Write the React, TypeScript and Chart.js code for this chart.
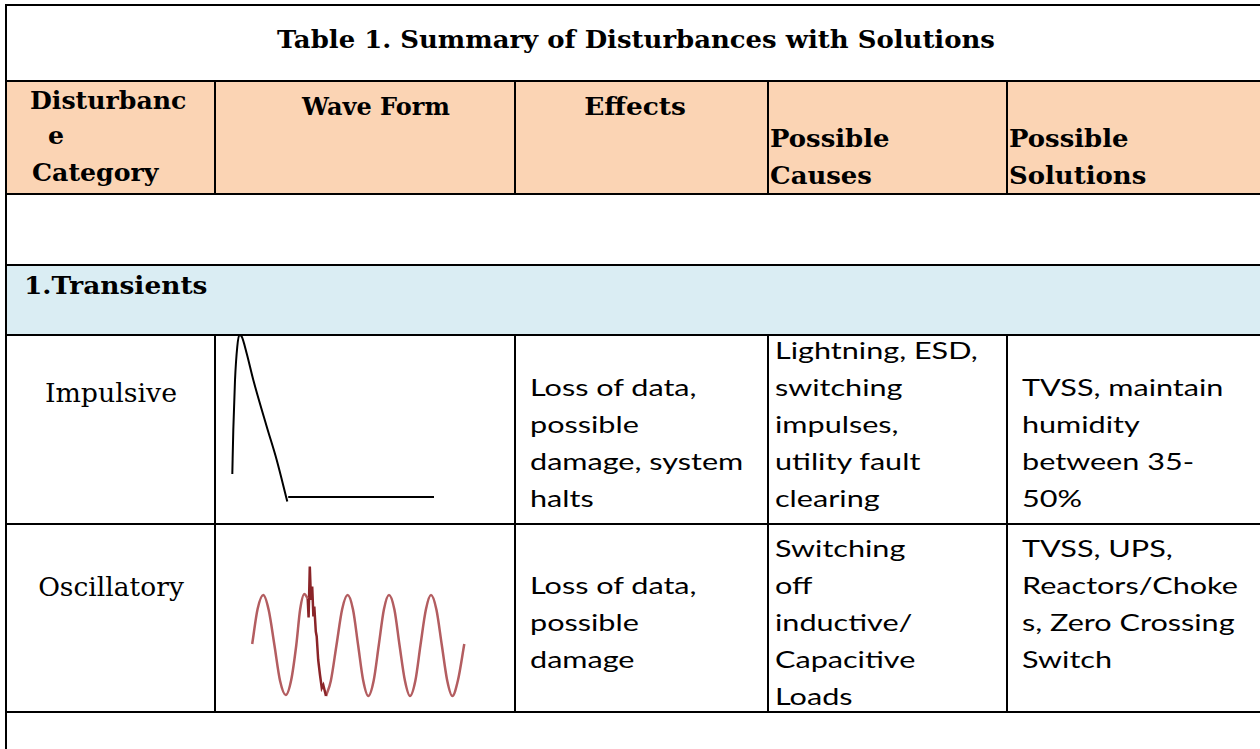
import React, { useEffect, useRef } from "react";
import { Chart, registerables } from "chart.js";

Chart.register(...registerables);

// ---------- text content ----------
const TITLE = "Table 1. Summary of Disturbances with Solutions";
const HEAD_CATEGORY = ["Disturbanc", "e", "Category"];
const HEAD_WAVE = "Wave Form";
const HEAD_EFFECTS = "Effects";
const HEAD_CAUSES = ["Possible", "Causes"];
const HEAD_SOLUTIONS = ["Possible", "Solutions"];
const SECTION = "1.Transients";
const ROW_LABELS = ["Impulsive", "Oscillatory"];
const EFFECTS_IMP = ["Loss of data,", "possible", "damage, system", "halts"];
const CAUSES_IMP = ["Lightning, ESD,", "switching", "impulses,", "utility fault", "clearing"];
const SOLUTIONS_IMP = ["TVSS, maintain", "humidity", "between 35-", "50%"];
const EFFECTS_OSC = ["Loss of data,", "possible", "damage"];
const CAUSES_OSC = ["Switching", "off", "inductive/", "Capacitive", "Loads"];
const SOLUTIONS_OSC = ["TVSS, UPS,", "Reactors/Choke", "s, Zero Crossing", "Switch"];

// ---------- waveform data (time units, voltage units) ----------
const IMPULSE_T = [5.77, 6.1, 6.67, 7.43, 8.1, 8.9, 10.57, 12.77, 17.23, 20.57, 24.1];
const IMPULSE_V = [0.46, 1.34, 2.34, 3.01, 3.24, 3.21, 2.87, 2.34, 1.41, 0.74, -0.09];
const BASELINE_T = [24.4, 73.0];
const BASELINE_V = [0.0, 0.0];

const OSC_A_T = [12.4, 14.2, 16.1, 17.9, 19.8, 21.7, 23.6, 25.4, 27.1, 28.4, 29.8, 30.9];
const OSC_A_V = [0.02, 0.72, 1.0, 0.7, 0.0, -0.72, -1.0, -0.7, 0.0, 0.72, 1.02, 0.93];
const OSC_SPIKE_T = [30.9, 31.2, 31.6, 32.0, 32.4, 32.8, 33.1, 33.6, 33.9, 34.4, 35.0, 35.6, 36.1, 37.0];
const OSC_SPIKE_V = [0.93, 0.55, 1.57, 0.9, 1.17, 0.57, 0.77, 0.27, 0.17, -0.3, -0.6, -0.86, -0.8, -1.02];
const OSC_B_T = [37.0, 38.6, 40.5, 42.4, 44.2, 46.0, 47.7, 49.4, 51.1, 52.9, 54.6, 56.3, 58.0, 59.8, 61.5, 63.3, 65.0, 66.8, 68.5, 70.3, 72.0, 73.8, 75.6, 77.4, 79.1, 81.0, 83.1];
const OSC_B_V = [-1.02, -0.72, 0.0, 0.72, 1.0, 0.71, 0.0, -0.71, -1.02, -0.71, 0.0, 0.71, 1.0, 0.71, 0.0, -0.71, -1.02, -0.71, 0.0, 0.71, 1.0, 0.71, 0.0, -0.71, -1.02, -0.7, 0.02];

const pts = (t: number[], v: number[]) => t.map((x, i) => ({ x, y: v[i] }));

// ---------- layout ----------
const W = 1260;
const H = 749;
const LEFT = 6;
const ROW_Y = [5, 81, 194, 265, 335, 524, 712];
const COL_X = [215, 515, 768, 1007];

const SERIF = "'DejaVu Serif', serif";
const SANS = "Lato, 'Open Sans', sans-serif";
const BODY_SIZE = 23;
const BODY_SX = 1.33;
const LINE_GAP = 37;

type WaveProps = {
  left: number;
  top: number;
  width: number;
  height: number;
  yMin: number;
  yMax: number;
  datasets: any[];
};

function WaveChart({ left, top, width, height, yMin, yMax, datasets }: WaveProps) {
  const ref = useRef<HTMLCanvasElement | null>(null);
  useEffect(() => {
    if (!ref.current) return;
    const chart = new Chart(ref.current, {
      type: "line",
      data: { datasets },
      options: {
        animation: false,
        responsive: false,
        maintainAspectRatio: false,
        events: [],
        layout: { padding: 0 },
        plugins: { legend: { display: false }, tooltip: { enabled: false } },
        scales: {
          x: { type: "linear", display: false, min: 0, max: 100 },
          y: { type: "linear", display: false, min: yMin, max: yMax },
        },
        elements: { point: { radius: 0 } },
      },
    } as any);
    return () => chart.destroy();
  }, []);
  return (
    <canvas
      ref={ref}
      width={width}
      height={height}
      style={{ position: "absolute", left, top, width, height }}
    />
  );
}

function T({
  x,
  y,
  text,
  align = "left",
  font,
  size,
  weight = 400,
  sx = 1,
}: {
  x: number;
  y: number;
  text: string;
  align?: "left" | "center";
  font: string;
  size: number;
  weight?: number;
  sx?: number;
}) {
  const center = align === "center";
  return (
    <div
      style={{
        position: "absolute",
        left: x,
        top: y,
        whiteSpace: "pre",
        fontFamily: font,
        fontSize: size,
        fontWeight: weight,
        lineHeight: 1,
        color: "#000",
        transform: center
          ? `translate(-50%, -50%) scaleX(${sx})`
          : `translateY(-50%) scaleX(${sx})`,
        transformOrigin: center ? "center center" : "left center",
      }}
    >
      {text}
    </div>
  );
}

function HLine({ y, x0 = LEFT, x1 = W }: { y: number; x0?: number; x1?: number }) {
  return (
    <div
      style={{
        position: "absolute",
        left: x0 - 1,
        top: y - 1,
        width: x1 - x0 + 1,
        height: 2,
        background: "#000",
        zIndex: 2,
      }}
    />
  );
}

function VLine({ x, y0, y1 }: { x: number; y0: number; y1: number }) {
  return (
    <div
      style={{
        position: "absolute",
        left: x - 1,
        top: y0 - 1,
        width: 2,
        height: y1 - y0 + 2,
        background: "#000",
        zIndex: 2,
      }}
    />
  );
}

function Lines({ x, ys, items }: { x: number; ys: number; items: string[] }) {
  return (
    <>
      {items.map((s, i) => (
        <T key={i} x={x} y={ys + i * LINE_GAP} text={s} font={SANS} size={BODY_SIZE} sx={BODY_SX} />
      ))}
    </>
  );
}

export default function App() {
  const lineBase = { pointRadius: 0, fill: false, clip: false };
  const impDatasets = [
    { ...lineBase, data: pts(IMPULSE_T, IMPULSE_V), borderColor: "#000", borderWidth: 2, cubicInterpolationMode: "monotone" },
    { ...lineBase, data: pts(BASELINE_T, BASELINE_V), borderColor: "#000", borderWidth: 2 },
  ];
  const oscDatasets = [
    { ...lineBase, data: pts(OSC_A_T, OSC_A_V), borderColor: "#b35d60", borderWidth: 2.5, cubicInterpolationMode: "monotone" },
    { ...lineBase, data: pts(OSC_SPIKE_T, OSC_SPIKE_V), borderColor: "#8a2428", borderWidth: 2.5, tension: 0 },
    { ...lineBase, data: pts(OSC_B_T, OSC_B_V), borderColor: "#b35d60", borderWidth: 2.5, cubicInterpolationMode: "monotone" },
  ];

  return (
    <div
      style={{
        position: "absolute",
        left: 0,
        top: 0,
        width: W,
        height: H,
        overflow: "hidden",
        background: "#fff",
      }}
    >
      {/* backgrounds */}
      <div style={{ position: "absolute", left: LEFT, top: ROW_Y[1], width: W - LEFT, height: ROW_Y[2] - ROW_Y[1], background: "#fbd4b4" }} />
      <div style={{ position: "absolute", left: LEFT, top: ROW_Y[3], width: W - LEFT, height: ROW_Y[4] - ROW_Y[3], background: "#daedf3" }} />

      {/* waveforms */}
      <WaveChart left={215} top={330} width={300} height={194} yMin={-0.54} yMax={3.34} datasets={impDatasets} />
      <WaveChart left={215} top={524} width={300} height={188} yMin={-1.34} yMax={2.42} datasets={oscDatasets} />

      {/* grid lines */}
      {ROW_Y.map((y, i) => (
        <HLine key={"h" + i} y={y} />
      ))}
      <VLine x={LEFT} y0={ROW_Y[0]} y1={H} />
      {COL_X.map((x, i) => (
        <React.Fragment key={"v" + i}>
          <VLine x={x} y0={ROW_Y[1]} y1={ROW_Y[2]} />
          <VLine x={x} y0={ROW_Y[4]} y1={ROW_Y[6]} />
        </React.Fragment>
      ))}

      {/* title */}
      <T x={636} y={40} text={TITLE} align="center" font={SERIF} size={24} weight={700} sx={1.08} />

      {/* header */}
      <T x={30} y={101} text={HEAD_CATEGORY[0]} font={SERIF} size={24} weight={700} sx={1.05} />
      <T x={48} y={136} text={HEAD_CATEGORY[1]} font={SERIF} size={24} weight={700} sx={1.05} />
      <T x={32} y={173} text={HEAD_CATEGORY[2]} font={SERIF} size={24} weight={700} sx={1.05} />
      <T x={376} y={107} text={HEAD_WAVE} align="center" font={SERIF} size={24} weight={700} sx={1.0} />
      <T x={635} y={107} text={HEAD_EFFECTS} align="center" font={SERIF} size={24} weight={700} sx={1.1} />
      <T x={770} y={139} text={HEAD_CAUSES[0]} font={SERIF} size={24} weight={700} sx={1.08} />
      <T x={770} y={176} text={HEAD_CAUSES[1]} font={SERIF} size={24} weight={700} sx={1.08} />
      <T x={1009} y={139} text={HEAD_SOLUTIONS[0]} font={SERIF} size={24} weight={700} sx={1.08} />
      <T x={1009} y={176} text={HEAD_SOLUTIONS[1]} font={SERIF} size={24} weight={700} sx={1.08} />

      {/* section */}
      <T x={24} y={286} text={SECTION} font={SERIF} size={24} weight={700} sx={1.1} />

      {/* impulsive row */}
      <T x={111} y={393} text={ROW_LABELS[0]} align="center" font={SERIF} size={26} sx={1.03} />
      <Lines x={530} ys={387} items={EFFECTS_IMP} />
      <Lines x={775} ys={350} items={CAUSES_IMP} />
      <Lines x={1022} ys={387} items={SOLUTIONS_IMP} />

      {/* oscillatory row */}
      <T x={111} y={587} text={ROW_LABELS[1]} align="center" font={SERIF} size={26} sx={1.02} />
      <Lines x={530} ys={585} items={EFFECTS_OSC} />
      <Lines x={775} ys={548} items={CAUSES_OSC} />
      <Lines x={1022} ys={548} items={SOLUTIONS_OSC} />
    </div>
  );
}
